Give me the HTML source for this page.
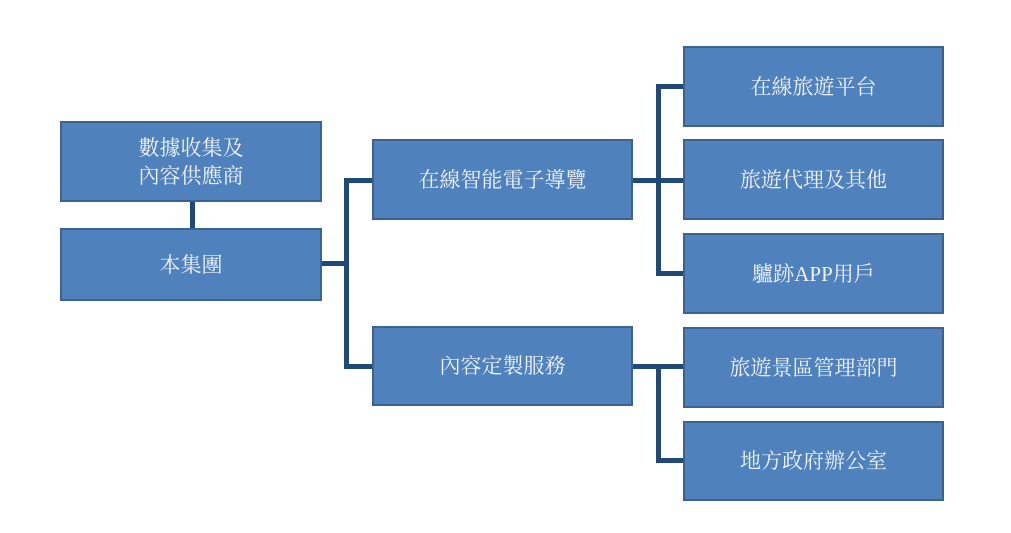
<!DOCTYPE html>
<html><head><meta charset="utf-8"><style>
body{margin:0;width:1011px;height:533px;background:#fff;position:relative;overflow:hidden;font-family:"Liberation Serif","Noto Serif CJK SC",serif;}
.b{position:absolute;background:#4f81bd;border:2px solid #3b6290;box-sizing:border-box;color:#eef2f8;font-size:21px;display:flex;align-items:center;justify-content:center;text-align:center;line-height:28px;}
.l{position:absolute;background:#1f4a78;}
</style></head><body>
<div class="b" style="left:60px;top:121px;width:262px;height:81px;">數據收集及<br>內容供應商</div>
<div class="b" style="left:60px;top:228px;width:262px;height:73px;">本集團</div>
<div class="b" style="left:372px;top:139px;width:261px;height:81px;">在線智能電子導覽</div>
<div class="b" style="left:372px;top:326px;width:261px;height:80px;">內容定製服務</div>
<div class="b" style="left:683px;top:46px;width:261px;height:81px;">在線旅遊平台</div>
<div class="b" style="left:683px;top:139px;width:261px;height:81px;">旅遊代理及其他</div>
<div class="b" style="left:683px;top:233px;width:261px;height:81px;">驢跡APP用戶</div>
<div class="b" style="left:683px;top:327px;width:261px;height:81px;">旅遊景區管理部門</div>
<div class="b" style="left:683px;top:421px;width:261px;height:80px;">地方政府辦公室</div>
<div class="l" style="left:190px;top:202px;width:5px;height:26px;"></div>
<div class="l" style="left:322px;top:261px;width:26px;height:5px;"></div>
<div class="l" style="left:344px;top:178px;width:5px;height:191px;"></div>
<div class="l" style="left:344px;top:178px;width:28px;height:5px;"></div>
<div class="l" style="left:344px;top:364px;width:28px;height:5px;"></div>
<div class="l" style="left:633px;top:178px;width:50px;height:5px;"></div>
<div class="l" style="left:656px;top:84px;width:5px;height:192px;"></div>
<div class="l" style="left:656px;top:84px;width:27px;height:5px;"></div>
<div class="l" style="left:656px;top:271px;width:27px;height:5px;"></div>
<div class="l" style="left:633px;top:364px;width:50px;height:5px;"></div>
<div class="l" style="left:656px;top:364px;width:5px;height:98px;"></div>
<div class="l" style="left:656px;top:458px;width:27px;height:5px;"></div>
</body></html>
